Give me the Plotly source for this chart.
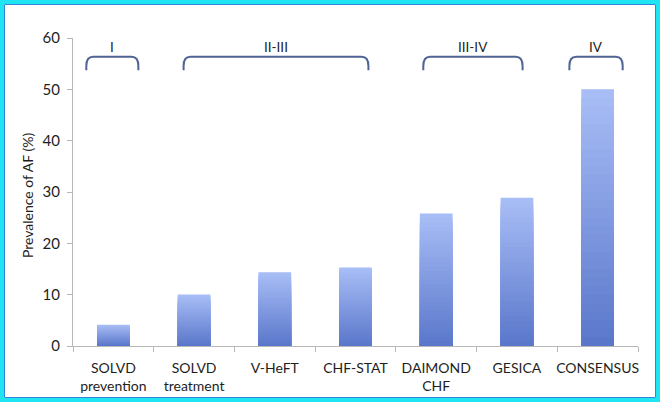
import plotly.graph_objects as go

# ---- data ----
categories = ["SOLVD<br>prevention", "SOLVD<br>treatment", "V-HeFT", "CHF-STAT",
              "DAIMOND<br>CHF", "GESICA", "CONSENSUS"]
prevalence = [4.15, 10.05, 14.35, 15.3, 25.8, 28.9, 50.0]
group_labels = ["I", "II-III", "III-IV", "IV"]
group_start = [0, 1, 4, 6]
group_end = [0, 3, 5, 6]
y_ticks = [0, 10, 20, 30, 40, 50, 60]

# ---- layout constants ----
W_PX, H_PX = 660, 402
ML, MR, MT, MB = 73, 22, 38, 56
PW, PH = W_PX - ML - MR, H_PX - MT - MB
NCAT = len(categories)
# bracket overhang (in category units) left of first / right of last category
bracket_pad_left = [0.335, 0.13, 0.16, 0.35]
bracket_pad_right = [0.31, 0.16, 0.07, 0.31]

top_rgb = (168, 189, 246)
bot_rgb = (88, 117, 201)
N = 30

fig = go.Figure()
for k in range(N):
    frac = (N - k) / N
    c = tuple(int(round(bot_rgb[j] + (top_rgb[j] - bot_rgb[j]) * frac)) for j in range(3))
    fig.add_trace(go.Bar(
        x=categories,
        y=[v * frac for v in prevalence],
        base=[0] * NCAT,
        width=0.405,
        marker=dict(color="rgb(%d,%d,%d)" % c, line=dict(width=0)),
        showlegend=False,
        hoverinfo="skip" if k else None,
    ))

def xp(cat_pos):
    return (cat_pos + 0.5) / NCAT

def yp(val):
    return val / 60.0

shapes = []
annotations = []
bracket_col = "#4f6494"
y_top = yp(56.35)
y_leg = yp(53.7)
r_x = 0.012
r_y = 0.03
for lab, s, e, pl, pr in zip(group_labels, group_start, group_end,
                             bracket_pad_left, bracket_pad_right):
    x0 = xp(s - pl)
    x1 = xp(e + pr)
    path = (f"M {x0},{y_leg} L {x0},{y_top - r_y} Q {x0},{y_top} {x0 + r_x},{y_top} "
            f"L {x1 - r_x},{y_top} Q {x1},{y_top} {x1},{y_top - r_y} L {x1},{y_leg}")
    shapes.append(dict(type="path", path=path, xref="paper", yref="paper",
                       line=dict(color=bracket_col, width=2)))
    annotations.append(dict(x=(x0 + x1) / 2, y=yp(58.3), xref="paper", yref="paper",
                            text=lab, showarrow=False, xanchor="center", yanchor="middle",
                            font=dict(family="Lato, sans-serif", size=13.5, color="#1e1e1e")))

annotations.append(dict(x=(27 - ML) / PW, y=0.49, xref="paper", yref="paper",
                        text="Prevalence of AF (%)", textangle=-90, showarrow=False,
                        xanchor="center", yanchor="middle",
                        font=dict(family="Lato, sans-serif", size=14, color="#1e1e1e")))

# frame
def px_to_paper_x(px):
    return (px - ML) / PW

def px_to_paper_y(py):
    return (MT + PH - py) / PH

shapes.append(dict(type="rect", xref="paper", yref="paper", layer="above",
                   x0=px_to_paper_x(4.5), x1=px_to_paper_x(W_PX - 4.5),
                   y0=px_to_paper_y(H_PX - 4.5), y1=px_to_paper_y(4.5),
                   line=dict(color="#2f86d6", width=1)))
shapes.append(dict(type="rect", xref="paper", yref="paper", layer="above",
                   x0=px_to_paper_x(0), x1=px_to_paper_x(W_PX),
                   y0=px_to_paper_y(H_PX), y1=px_to_paper_y(0),
                   line=dict(color="#1fe4f4", width=8)))

fig.update_layout(
    width=W_PX, height=H_PX,
    margin=dict(l=ML, r=MR, t=MT, b=MB, autoexpand=False),
    paper_bgcolor="white", plot_bgcolor="white",
    barmode="overlay",
    shapes=shapes, annotations=annotations,
    font=dict(family="Lato, sans-serif", size=14, color="#1e1e1e"),
    xaxis=dict(type="category", range=[-0.5, NCAT - 0.5], showline=True,
               linecolor="#b8b8b8", linewidth=1, ticks="outside", tickson="boundaries",
               ticklen=5, tickcolor="#b8b8b8", showgrid=False, fixedrange=True,
               tickangle=0, automargin=False, ticklabelstandoff=9,
               tickfont=dict(size=14, color="#1e1e1e")),
    yaxis=dict(range=[0, 60], tickvals=y_ticks, showline=True, linecolor="#b8b8b8",
               linewidth=1, ticks="outside", ticklen=5, tickcolor="#b8b8b8",
               showgrid=False, zeroline=False, fixedrange=True, automargin=False,
               ticklabelstandoff=4,
               tickfont=dict(size=15, color="#1e1e1e")),
)

fig.write_html("out.html")
